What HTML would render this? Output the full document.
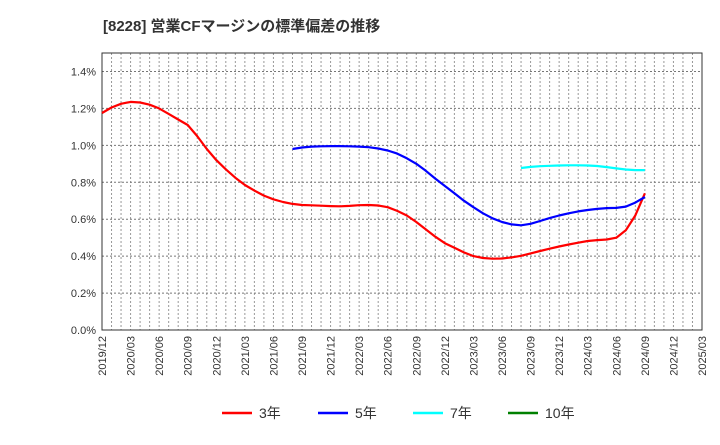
<!DOCTYPE html>
<html><head><meta charset="utf-8"><style>
body{margin:0;background:#fff;font-family:"Liberation Sans","Noto Sans CJK JP",sans-serif;}
</style></head><body>
<svg id="chart" width="720" height="440" xmlns="http://www.w3.org/2000/svg" font-family="Liberation Sans, Noto Sans CJK JP, sans-serif">
<text x="103" y="31" font-size="15" font-weight="bold" fill="#333">[8228]  営業CFマージンの標準偏差の推移</text>
<g id="grid"></g><g id="axes"></g><g id="series"></g>
<g font-size="14" fill="#333">
<g><line x1="222" y1="413" x2="252" y2="413" stroke="#ff0000" stroke-width="2.5"/><text x="259" y="418">3年</text></g>
<g><line x1="318" y1="413" x2="348" y2="413" stroke="#0000ff" stroke-width="2.5"/><text x="355" y="418">5年</text></g>
<g><line x1="413" y1="413" x2="443" y2="413" stroke="#00ffff" stroke-width="2.5"/><text x="450" y="418">7年</text></g>
<g><line x1="508" y1="413" x2="538" y2="413" stroke="#008000" stroke-width="2.5"/><text x="545" y="418">10年</text></g>
</g>
</svg>
<script>
const xTickLabels=["2019/12","2020/03","2020/06","2020/09","2020/12","2021/03","2021/06","2021/09","2021/12","2022/03","2022/06","2022/09","2022/12","2023/03","2023/06","2023/09","2023/12","2024/03","2024/06","2024/09","2024/12","2025/03"];
const yTicks=[0,0.2,0.4,0.6,0.8,1.0,1.2,1.4];
// monthly values starting at given month index (0 = 2019/12)
const s3Start=0;
const s3=[1.175,1.205,1.225,1.235,1.232,1.22,1.2,1.17,1.14,1.11,1.05,0.98,0.92,0.87,0.825,0.785,0.755,0.728,0.708,0.693,0.683,0.677,0.675,0.673,0.671,0.67,0.672,0.676,0.677,0.674,0.665,0.645,0.62,0.585,0.545,0.505,0.47,0.445,0.42,0.4,0.39,0.386,0.387,0.393,0.402,0.415,0.428,0.44,0.452,0.463,0.473,0.482,0.487,0.49,0.5,0.54,0.62,0.74];
const s5Start=20;
const s5=[0.98,0.988,0.993,0.995,0.996,0.996,0.995,0.993,0.99,0.983,0.972,0.955,0.93,0.9,0.862,0.82,0.78,0.74,0.7,0.665,0.632,0.605,0.585,0.572,0.567,0.575,0.59,0.606,0.62,0.632,0.642,0.65,0.656,0.66,0.661,0.668,0.69,0.72];
const s7Start=44;
const s7=[0.877,0.883,0.887,0.889,0.891,0.892,0.892,0.891,0.888,0.882,0.875,0.869,0.866,0.866];
const s10Start=0;const s10=[];
const X0=102,X1=702,Y0=330,Y1=53,NM=63,YMAX=1.5;
const xs=m=>X0+(X1-X0)*m/NM, ys=v=>Y0-(Y0-Y1)*v/YMAX;
const NS="http://www.w3.org/2000/svg";
function mk(t,a,p){const e=document.createElementNS(NS,t);for(const k in a)e.setAttribute(k,a[k]);p.appendChild(e);return e;}
const grid=document.getElementById('grid'),axes=document.getElementById('axes'),ser=document.getElementById('series');
for(let m=1;m<NM;m++){const l=mk('line',{x1:xs(m),x2:xs(m),y1:Y1,y2:Y0,stroke:'#999','stroke-dasharray':'2,2','stroke-width':1},grid);

}
yTicks.forEach(v=>{if(v>0){const l=mk('line',{x1:X0,x2:X1,y1:ys(v),y2:ys(v),stroke:'#777','stroke-dasharray':'2,2','stroke-width':1},grid);

}
const t=mk('text',{x:X0-6,y:ys(v)+4,'text-anchor':'end','font-size':11,fill:'#333'},axes);t.textContent=v.toFixed(1)+'%';

});
const fr=mk('rect',{x:X0,y:Y1,width:X1-X0,height:Y0-Y1,fill:'none',stroke:'#333','stroke-width':1},axes);


xTickLabels.forEach((s,i)=>{const x=xs(i*3);const t=mk('text',{x:x+4,y:Y0+6,'text-anchor':'end','font-size':11,fill:'#333',transform:`rotate(-90 ${x+4} ${Y0+6})`},axes);t.textContent=s;

});
function draw(arr,start,color,name){if(!arr.length)return;let d='';arr.forEach((v,i)=>{d+=(i?'L':'M')+xs(start+i).toFixed(1)+','+ys(v).toFixed(1);});
const p=mk('path',{d:d,fill:'none',stroke:color,'stroke-width':2.2,'stroke-linejoin':'round'},ser);

}
draw(s3,s3Start,'#ff0000','series-3y');
draw(s5,s5Start,'#0000ff','series-5y');
draw(s7,s7Start,'#00ffff','series-7y');
draw(s10,s10Start,'#008000','series-10y');
</script>
</body></html>
